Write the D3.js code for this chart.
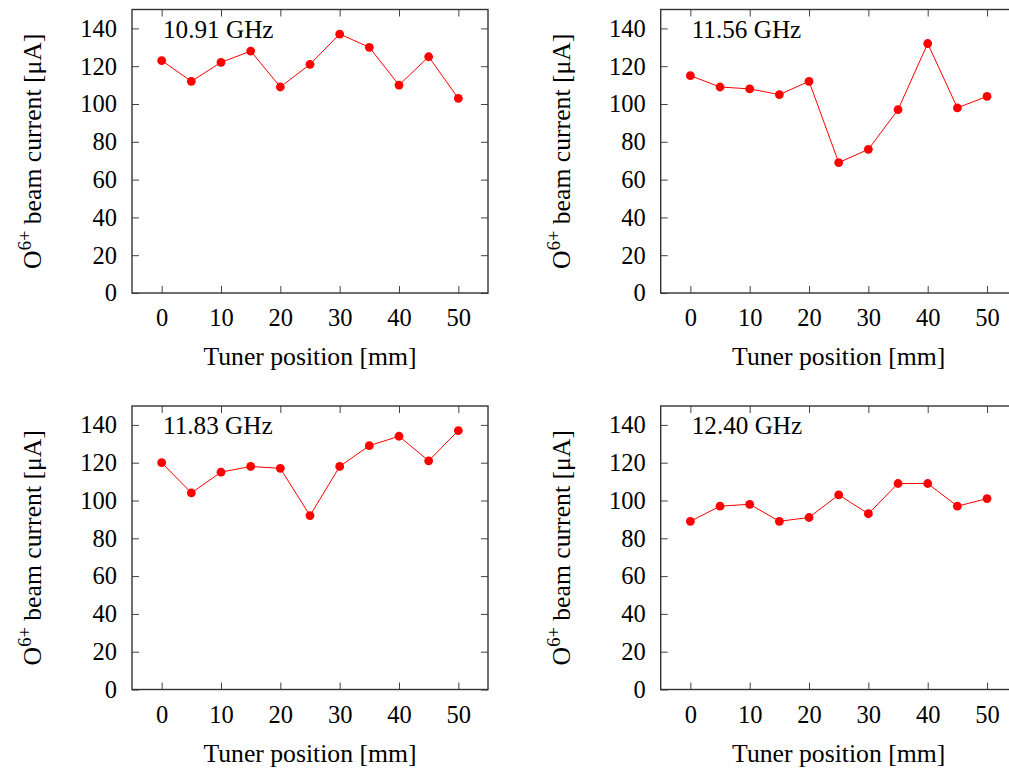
<!DOCTYPE html>
<html>
<head>
<meta charset="utf-8">
<script src="https://cdn.jsdelivr.net/npm/d3@7"></script>
<style>
  html, body { margin: 0; padding: 0; background: #fff; }
  svg { display: block; }
  text { font-family: "Liberation Serif", "Times New Roman", serif; fill: #000; }
</style>
</head>
<body>
<svg id="chart" width="1009" height="770"></svg>
<script>
// Tuner positions in mm (shared by all four panels)
const positions = [0, 5, 10, 15, 20, 25, 30, 35, 40, 45, 50];

// Microwave frequency of each panel
const frequencies = ["10.91 GHz", "11.56 GHz", "11.83 GHz", "12.40 GHz"];

// O6+ beam current [µA] at each tuner position
const current1091 = [123, 112, 122, 128, 109, 121, 137, 130, 110, 125, 103];
const current1156 = [115, 109, 108, 105, 112, 69, 76, 97, 132, 98, 104];
const current1183 = [120, 104, 115, 118, 117, 92, 118, 129, 134, 121, 137];
const current1240 = [89, 97, 98, 89, 91, 103, 93, 109, 109, 97, 101];

// Axis ticks
const xTicks = [0, 10, 20, 30, 40, 50];
const yTicks = [0, 20, 40, 60, 80, 100, 120, 140];

const seriesList = [current1091, current1156, current1183, current1240];

const svg = d3.select("#chart");

const plotW = 356, plotH = 283.5;
const origins = [[132, 9.5], [660.7, 9.5], [132, 406], [660.7, 406]];

const x = d3.scaleLinear().domain([-5, 55]).range([0, plotW]);
const y = d3.scaleLinear().domain([0, 150]).range([plotH, 0]);

const tickLen = 7;
const tickFont = 24.5;
const labelFont = 25.7;
const titleFont = 25.2;

seriesList.forEach((values, i) => {
  const [ox, oy] = origins[i];
  const g = svg.append("g").attr("transform", `translate(${ox},${oy})`);

  // bottom axis with labels
  const bottom = g.append("g").attr("transform", `translate(0,${plotH})`)
    .call(d3.axisBottom(x).tickValues(xTicks).tickSizeInner(-tickLen).tickSizeOuter(0).tickPadding(16));
  // top axis, ticks only
  const top = g.append("g")
    .call(d3.axisTop(x).tickValues(xTicks).tickSizeInner(-tickLen).tickSizeOuter(0).tickFormat(""));
  // left axis with labels
  const left = g.append("g")
    .call(d3.axisLeft(y).tickValues(yTicks).tickSizeInner(-tickLen).tickSizeOuter(0).tickPadding(15));
  // right axis, ticks only
  const right = g.append("g").attr("transform", `translate(${plotW},0)`)
    .call(d3.axisRight(y).tickValues(yTicks).tickSizeInner(-tickLen).tickSizeOuter(0).tickFormat(""));

  [bottom, top, left, right].forEach(a => {
    a.select(".domain").remove();
    a.selectAll(".tick line").attr("stroke", "#444").attr("stroke-width", 1);
    a.selectAll(".tick text").attr("font-size", tickFont)
      .attr("font-family", '"Liberation Serif", "Times New Roman", serif').attr("fill", "#000");
  });

  // plot frame
  g.append("rect")
    .attr("x", 0).attr("y", 0).attr("width", plotW).attr("height", plotH)
    .attr("fill", "none").attr("stroke", "#333").attr("stroke-width", 1.4);

  // data line and markers
  const pts = positions.map((p, k) => [p, values[k]]);
  g.append("path")
    .datum(pts)
    .attr("fill", "none")
    .attr("stroke", "#ff0000")
    .attr("stroke-width", 1)
    .attr("d", d3.line().x(d => x(d[0])).y(d => y(d[1])));
  g.selectAll("circle.pt")
    .data(pts)
    .join("circle")
    .attr("class", "pt")
    .attr("cx", d => x(d[0]))
    .attr("cy", d => y(d[1]))
    .attr("r", 4.4)
    .attr("fill", "#ff0000");

  // frequency label
  g.append("text")
    .attr("x", 31).attr("y", 28)
    .attr("font-size", titleFont)
    .text(frequencies[i]);

  // x axis title
  g.append("text")
    .attr("x", plotW / 2).attr("y", plotH + 72)
    .attr("text-anchor", "middle")
    .attr("font-size", labelFont)
    .text("Tuner position [mm]");

  // y axis title
  const yl = g.append("text")
    .attr("transform", `translate(${41 - ox + (i % 2 ? 528.7 : 0)},${plotH / 2}) rotate(-90)`)
    .attr("text-anchor", "middle")
    .attr("font-size", labelFont);
  yl.append("tspan").text("O");
  yl.append("tspan").attr("font-size", 18.5).attr("dy", -10).text("6+");
  yl.append("tspan").attr("dy", 10).text(" beam current [μA]");
});
</script>
</body>
</html>
